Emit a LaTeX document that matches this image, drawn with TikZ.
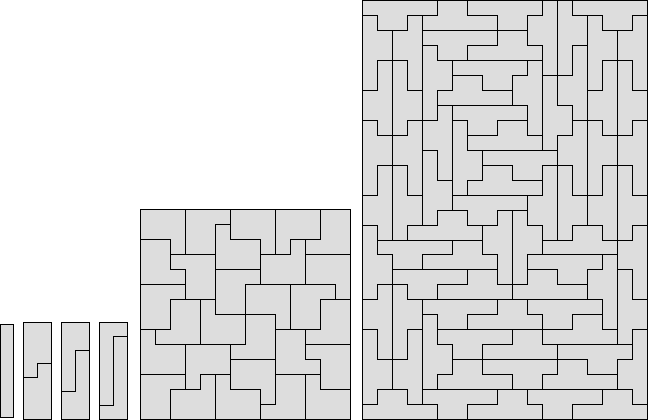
\documentclass[tikz,border=0pt]{standalone}
\definecolor{tilefill}{RGB}{221,221,221}
\newcommand{\tileHD}[3]{\draw[edge] (#1,#2) -- ++(5,0) -- ++(0,1) -- ({#1+#3+2},{#2+1}) -- ++(0,1) -- ++(-2,0) -- ++(0,-1) -- (#1,{#2+1}) -- cycle;}
\newcommand{\tileHU}[3]{\draw[edge] (#1,#2) -- ({#1+#3},#2) -- ++(0,-1) -- ++(2,0) -- ++(0,1) -- ({#1+5},#2) -- ++(0,1) -- (#1,{#2+1}) -- cycle;}
\newcommand{\tileVR}[3]{\draw[edge] (#1,#2) -- ++(1,0) -- ({#1+1},{#2+#3}) -- ++(1,0) -- ++(0,2) -- ++(-1,0) -- ({#1+1},{#2+5}) -- (#1,{#2+5}) -- cycle;}
\newcommand{\tileVL}[3]{\draw[edge] (#1,#2) -- ++(1,0) -- ({#1+1},{#2+5}) -- (#1,{#2+5}) -- (#1,{#2+#3+2}) -- ++(-1,0) -- ++(0,-2) -- ++(1,0) -- cycle;}
\begin{document}
\begin{tikzpicture}[x=1pt,y=-1pt,
  edge/.style={draw=black, line width=1pt, line join=miter, line cap=rect},
  board/.style={fill=tilefill, draw=black, line width=1pt}]
\useasboundingbox (0,0) rectangle (648,420);

% ---------- small strips ----------
\draw[board] (0.7,324) rectangle (13.3,417.3);
\draw[board] (23.3,322.3) rectangle (51.3,419.3);
\draw[edge] (23.3,377.5) -- (37.3,377.5) -- (37.3,363.9) -- (51.3,363.9);
\draw[board] (61,322.3) rectangle (89.3,419.3);
\draw[edge] (61,391) -- (75.3,391) -- (75.3,350.3) -- (89.3,350.3);
\draw[board] (99.3,322.3) rectangle (127.3,419.3);
\draw[edge] (99.3,405.3) -- (113.3,405.3) -- (113.3,336) -- (127.3,336);

% ---------- middle 14x14 square ----------
\begin{scope}[shift={(140.3,209.3)}, x=15pt, y=-15pt]
\fill[tilefill] (0,0) rectangle (14,14);
\foreach \a/\b/\c in {3/0/3, 6/0/2, 9/0/3, 12/0/2, 5/1/7, 2/2/4, 3/4/6, 8/2/5, 10/2/3, 11/2/5,
  7/5/9, 10/5/8, 13/5/6, 2/6/8, 4/6/9, 12/6/8, 9/7/13, 1/8/9, 11/8/10, 3/9/12, 6/9/12,
  12/10/12, 4/11/12, 5/11/14, 2/12/14, 8/12/14, 11/11/14}
  \draw[edge] (\a,\b) -- (\a,\c);
\foreach \r/\a/\b in {2/0/2, 1/5/6, 2/6/8, 2/10/12, 3/2/5, 3/8/10, 3/11/14, 4/2/3, 4/5/8,
  5/0/3, 5/7/13, 6/2/5, 6/12/14, 7/5/9, 8/0/2, 8/9/12, 9/1/7, 9/11/14, 10/6/9, 10/11/12,
  11/0/3, 11/4/6, 11/9/12, 12/2/4, 12/6/8, 12/12/14, 13/8/9}
  \draw[edge] (\a,\r) -- (\b,\r);
\draw[edge] (0,0) rectangle (14,14);
\end{scope}

% ---------- large 19x28 rectangle ----------
\begin{scope}[shift={(362.3,0.5)}, x=15pt, y=-14.97pt]
\fill[tilefill] (0,0) rectangle (19,28);
\tileHD{0}{0}{1}
\tileHU{4}{1}{1}
\tileHD{7}{0}{2}
\tileVL{12}{0}{1}
\tileVR{13}{0}{1}
\tileHD{14}{0}{2}
\tileVL{18}{1}{1}
\tileVR{15}{1}{1}
\tileVL{16}{4}{2}
\tileVR{17}{4}{2}
\tileVR{0}{1}{1}
\tileVL{3}{1}{1}
\tileHD{4}{2}{1}
\tileHU{7}{3}{2}
\tileVR{4}{3}{1}
\tileHD{6}{4}{2}
\tileHU{5}{6}{1}
\tileVL{11}{4}{1}
\tileVR{12}{5}{2}
\tileVL{14}{3}{2}
\tileVL{1}{4}{2}
\tileVR{2}{4}{2}
\tileHD{6}{7}{1}
\tileHU{7}{9}{2}
\tileVL{5}{7}{1}
\tileVR{6}{8}{2}
\tileVL{14}{8}{1}
\tileVR{15}{8}{1}
\tileVL{18}{8}{1}
\tileVR{0}{8}{1}
\tileVL{3}{8}{1}
\tileHD{8}{10}{2}
\tileHU{7}{12}{1}
\tileVR{4}{10}{2}
\tileVL{1}{11}{2}
\tileVR{2}{11}{2}
\tileVL{12}{11}{2}
\tileVR{13}{11}{2}
\tileVL{16}{11}{2}
\tileVR{17}{11}{2}
\tileHD{6}{13}{1}
\tileHU{3}{15}{2}
\tileVL{9}{14}{1}
\tileVR{10}{14}{1}
\tileVR{0}{15}{2}
\tileHD{1}{16}{1}
\tileHU{4}{17}{2}
\tileHU{12}{16}{2}
\tileVL{18}{15}{1}
\tileHD{11}{17}{2}
\tileVL{16}{17}{1}
\tileVR{17}{18}{2}
\tileHD{2}{18}{1}
\tileHU{5}{19}{2}
\tileHU{10}{19}{1}
\tileVL{1}{19}{1}
\tileVR{2}{19}{1}
\tileHD{4}{20}{1}
\tileHU{7}{21}{2}
\tileHD{11}{20}{1}
\tileHU{12}{22}{2}
\tileHD{5}{22}{1}
\tileHU{8}{23}{2}
\tileVR{4}{21}{2}
\tileVR{0}{22}{2}
\tileVL{3}{22}{2}
\tileHU{0}{27}{1}
\tileHU{5}{25}{1}
\tileHD{8}{24}{2}
\tileHD{13}{23}{2}
\tileHU{12}{25}{1}
\tileVL{18}{22}{2}
\tileHD{4}{26}{1}
\tileHU{7}{27}{2}
\tileHD{11}{26}{1}
\tileHU{14}{27}{2}
\draw[edge] (0,0) rectangle (19,28);
\end{scope}
\end{tikzpicture}
\end{document}
